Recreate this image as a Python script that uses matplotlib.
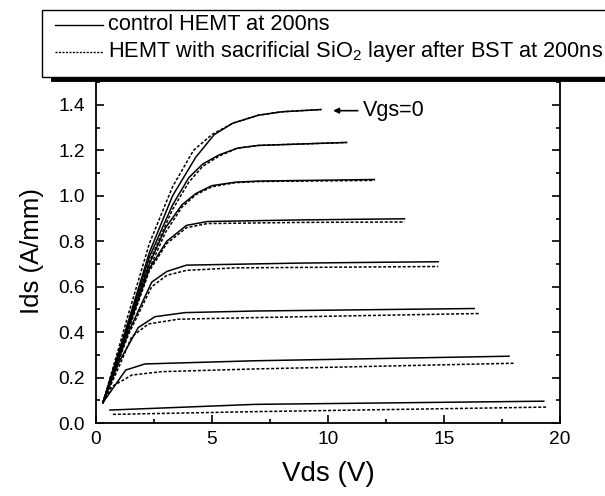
import matplotlib
matplotlib.use("Agg")
import matplotlib.pyplot as plt
from matplotlib.patches import Rectangle
from matplotlib.lines import Line2D
from matplotlib.ticker import MultipleLocator

plt.rcParams["font.family"] = ["Liberation Sans", "DejaVu Sans"]

# control HEMT curves (Vgs = 0 at top, then stepping down)
ctrl_vds = [
    [0.3, 1.4, 2.3, 3.3, 4.3, 5.1, 5.9, 7.0, 8.0, 9.7],
    [0.3, 1.4, 2.3, 3.3, 4.0, 4.6, 5.3, 6.1, 7.0, 10.8],
    [0.3, 1.4, 2.3, 3.0, 3.7, 4.3, 5.0, 6.0, 7.0, 12.0],
    [0.3, 1.4, 2.3, 3.05, 3.9, 4.8, 8.8, 13.3],
    [0.3, 1.4, 2.4, 3.05, 3.9, 8.8, 14.75],
    [0.3, 1.0, 1.82, 2.54, 3.84, 6.85, 16.3],
    [0.3, 1.28, 2.11, 6.85, 17.8],
    [0.6, 6.85, 19.3],
]
ctrl_ids = [
    [0.09, 0.45, 0.75, 1.0, 1.17, 1.27, 1.32, 1.355, 1.37, 1.38],
    [0.09, 0.44, 0.73, 0.96, 1.08, 1.14, 1.18, 1.21, 1.222, 1.235],
    [0.09, 0.43, 0.70, 0.86, 0.96, 1.01, 1.045, 1.06, 1.065, 1.072],
    [0.09, 0.42, 0.68, 0.80, 0.87, 0.887, 0.894, 0.899],
    [0.09, 0.40, 0.62, 0.667, 0.695, 0.704, 0.71],
    [0.09, 0.27, 0.42, 0.468, 0.486, 0.493, 0.504],
    [0.09, 0.233, 0.26, 0.274, 0.294],
    [0.057, 0.082, 0.096],
]

# HEMT with sacrificial SiO2 layer
sio2_vds = [
    [0.3, 1.4, 2.3, 3.3, 4.2, 5.0, 5.9, 7.0, 8.0, 9.7],
    [0.3, 1.4, 2.3, 3.3, 4.0, 4.6, 5.3, 6.1, 7.0, 10.8],
    [0.3, 1.4, 2.3, 3.0, 3.7, 4.3, 5.0, 6.0, 7.0, 12.0],
    [0.3, 1.4, 2.3, 3.05, 3.9, 4.8, 8.8, 13.3],
    [0.3, 1.4, 2.4, 3.05, 3.9, 6.0, 14.75],
    [0.3, 1.0, 1.54, 2.26, 3.55, 6.85, 16.5],
    [0.3, 0.68, 1.54, 2.83, 6.85, 18.0],
    [0.73, 6.85, 19.4],
]
sio2_ids = [
    [0.09, 0.48, 0.79, 1.04, 1.20, 1.27, 1.32, 1.355, 1.37, 1.38],
    [0.09, 0.43, 0.71, 0.94, 1.06, 1.13, 1.175, 1.21, 1.222, 1.235],
    [0.09, 0.42, 0.68, 0.84, 0.95, 1.005, 1.04, 1.058, 1.063, 1.068],
    [0.09, 0.41, 0.67, 0.79, 0.86, 0.878, 0.883, 0.885],
    [0.09, 0.39, 0.60, 0.65, 0.672, 0.683, 0.689],
    [0.09, 0.25, 0.38, 0.436, 0.457, 0.464, 0.482],
    [0.09, 0.16, 0.211, 0.226, 0.238, 0.263],
    [0.038, 0.05, 0.07],
]

legend_labels = ["control HEMT at 200ns",
                 r"HEMT with sacrificial SiO$_\mathregular{2}$ layer after BST at 200ns"]

W, H = 605, 496
fig = plt.figure(figsize=(W / 100, H / 100), dpi=100)
ax = fig.add_axes([96 / W, 1 - 423 / H, (560 - 96) / W, (423 - 80) / H])

dash = (0, (2.0, 1.2))
for x, y in zip(ctrl_vds, ctrl_ids):
    ax.plot(x, y, color="black", lw=1.1)
for x, y in zip(sio2_vds, sio2_ids):
    ax.plot(x, y, color="black", lw=1.1, linestyle=dash)

ax.set_xlim(0, 20)
ax.set_ylim(0, 1.51)
ax.xaxis.set_major_locator(MultipleLocator(5))
ax.xaxis.set_minor_locator(MultipleLocator(2.5))
ax.yaxis.set_minor_locator(MultipleLocator(0.1))
ax.set_yticks([0.0, 0.2, 0.4, 0.6, 0.8, 1.0, 1.2, 1.4])
ax.tick_params(which="both", direction="in", right=True, top=False,
               labelsize=13.8, width=1.2)
ax.tick_params(which="major", length=6)
ax.tick_params(which="minor", length=3)
ax.tick_params(axis="x", pad=6)
ax.tick_params(axis="y", pad=8)
ax.spines["top"].set_visible(False)
for s in ["left", "right", "bottom"]:
    ax.spines[s].set_linewidth(1.3)

ax.set_xlabel("Vds (V)", fontsize=20, labelpad=9)
ax.set_ylabel("Ids (A/mm)", fontsize=18.5, labelpad=10)

ax.annotate("", xy=(10.1, 1.375), xytext=(11.4, 1.375),
            arrowprops=dict(arrowstyle="-|>", color="black", lw=1.2,
                            mutation_scale=8))
ax.text(11.5, 1.375, "Vgs=0", fontsize=15.5, va="center", ha="left")

# legend box drawn above the axes, running off the right edge
fig.patches.append(Rectangle((42 / W, 1 - 77 / H), (640 - 42) / W, 67 / H,
                             transform=fig.transFigure, facecolor="white",
                             edgecolor="black", lw=1.0, zorder=5))
fig.lines.append(Line2D([53 / W, 1.0], [1 - 79 / H, 1 - 79 / H],
                        transform=fig.transFigure, color="black", lw=3.5,
                        zorder=6))
fig.lines.append(Line2D([55 / W, 103 / W], [1 - 25 / H, 1 - 25 / H],
                        transform=fig.transFigure, color="black", lw=1.0,
                        zorder=6))
fig.lines.append(Line2D([55 / W, 103 / W], [1 - 52 / H, 1 - 52 / H],
                        transform=fig.transFigure, color="black", lw=1.0,
                        linestyle=(0, (1.5, 1.0)), zorder=6))
fig.text(108 / W, 1 - 25 / H, legend_labels[0], fontsize=15.7, va="center",
         ha="left", zorder=7)
fig.text(108 / W, 1 - 52 / H, legend_labels[1], fontsize=15.7, va="center",
         ha="left", zorder=7)

fig.savefig("out.png", dpi=100)
